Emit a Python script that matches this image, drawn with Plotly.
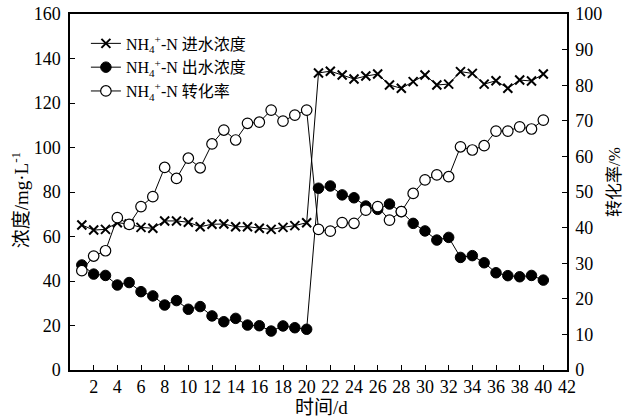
import plotly.graph_objects as go

days = list(range(1, 41))
influent = [65.2, 62.9, 63.2, 66.2, 65.6, 64.1, 63.7, 67.0, 67.0, 66.4,
            64.4, 65.5, 65.6, 64.4, 64.4, 63.7, 63.2, 64.1, 64.9, 66.2,
            133.5, 134.3, 132.6, 130.8, 132.1, 133.0, 128.1, 126.6, 129.6, 132.6,
            128.1, 128.5, 134.1, 133.3, 128.5, 130.0, 126.6, 130.3, 129.9, 133.0]
effluent = [47.2, 43.1, 42.5, 38.2, 39.3, 35.2, 33.3, 29.2, 31.2, 27.3,
            28.5, 24.3, 21.7, 23.2, 20.2, 19.9, 17.5, 19.8, 19.0, 18.3,
            81.7, 82.7, 78.7, 77.4, 73.7, 72.2, 74.6, 71.2, 65.9, 62.5,
            58.4, 59.6, 50.6, 51.4, 48.2, 43.7, 42.4, 41.9, 42.5, 40.4]
conversion = [27.9, 32.0, 33.5, 42.8, 40.9, 45.9, 48.7, 56.9, 53.8, 59.5,
              56.8, 63.5, 67.4, 64.6, 69.3, 69.6, 73.0, 69.9, 71.6, 73.0,
              39.5, 39.0, 41.4, 41.2, 44.9, 45.9, 42.1, 44.5, 49.6, 53.4,
              54.8, 54.3, 62.7, 61.8, 63.0, 67.1, 67.1, 68.3, 67.7, 70.2]
x_ticks = list(range(2, 43, 2))
y_ticks = list(range(0, 161, 20))
y2_ticks = list(range(0, 101, 10))
x_title = "时间/d"
y_title = "浓度/mg·L<sup>-1</sup>"
y2_title = "转化率/%"

font = "Liberation Serif, Times New Roman, Noto Sans CJK SC, serif"

fig = go.Figure()
fig.add_trace(go.Scatter(
    x=days, y=influent, mode="lines+markers",
    name="NH<sub>4</sub><sup>+</sup>-N 进水浓度",
    line=dict(color="black", width=1),
    marker=dict(symbol="x-thin", size=9, color="black",
                line=dict(color="black", width=2))))
fig.add_trace(go.Scatter(
    x=days, y=effluent, mode="lines+markers",
    name="NH<sub>4</sub><sup>+</sup>-N 出水浓度",
    line=dict(color="black", width=1),
    marker=dict(symbol="circle", size=10.5, color="black",
                line=dict(color="black", width=1))))
fig.add_trace(go.Scatter(
    x=days, y=conversion, mode="lines+markers", yaxis="y2",
    name="NH<sub>4</sub><sup>+</sup>-N 转化率",
    line=dict(color="black", width=1),
    marker=dict(symbol="circle", size=10.5, color="white",
                line=dict(color="black", width=1.2))))

axis_common = dict(ticks="inside", ticklen=5, tickcolor="black",
                   showline=True, linecolor="black", linewidth=1.5,
                   showgrid=False, zeroline=False, automargin=False,
                   tickfont=dict(size=18))

fig.update_layout(
    width=625, height=417,
    margin=dict(l=70, r=58, t=14, b=47),
    paper_bgcolor="white", plot_bgcolor="white",
    font=dict(family=font, size=18, color="black"),
    showlegend=True,
    legend=dict(x=0.032, y=0.965, xanchor="left", yanchor="top",
                bgcolor="rgba(0,0,0,0)", font=dict(size=16),
                tracegroupgap=0, itemwidth=30),
    xaxis=dict(range=[0, 42], tickvals=x_ticks, ticktext=[str(v) for v in x_ticks],
               mirror=True, **axis_common),
    yaxis=dict(range=[0, 160], tickvals=y_ticks, ticklabelstandoff=4, **axis_common),
    yaxis2=dict(range=[0, 100], tickvals=y2_ticks, overlaying="y", side="right",
                ticklabelstandoff=3, **axis_common),
    annotations=[
        dict(text=x_title, xref="paper", yref="paper", x=0.507, y=-0.105,
             xanchor="center", yanchor="middle", showarrow=False,
             font=dict(size=19)),
        dict(text=y_title, xref="paper", yref="paper", x=-0.1, y=0.4775,
             xanchor="center", yanchor="middle", showarrow=False, textangle=-90,
             font=dict(size=19)),
        dict(text=y2_title, xref="paper", yref="paper", x=1.0946, y=0.528,
             xanchor="center", yanchor="middle", showarrow=False, textangle=-90,
             font=dict(size=17)),
    ],
)

fig.write_html("out.html",
               config={"displayModeBar": False},
               post_script="document.body.style.margin='0px';"
                           "document.documentElement.style.overflow='hidden';")
